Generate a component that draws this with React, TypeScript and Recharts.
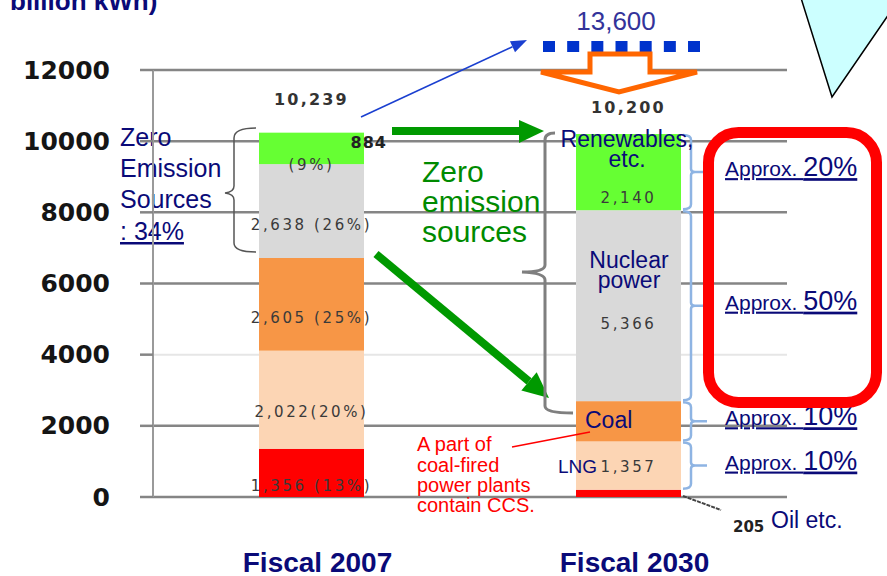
import React from 'react';
import { BarChart, Bar, XAxis, YAxis, CartesianGrid } from 'recharts';

// ---------- data ----------
const categories = ['Fiscal 2007', 'Fiscal 2030'];
const oil = [1356, 205];
const lng = [2756, 1357];
const coal = [2605, 1132];
const nuclear = [2638, 5366];
const renewables = [884, 2140];

const totalLabels = ['10,239', '10,200'];
const oilLabels = ['1,356 (13%)', ''];
const lngLabels = ['2,022(20%)', '1,357'];
const coalLabels = ['2,605 (25%)', ''];
const nuclearLabels = ['2,638 (26%)', '5,366'];
const renewLabels = ['(9%)', '2,140'];
const renewTopLabel = '884';
const approxRenew = '20%';
const approxNuclear = '50%';
const approxCoal = '10%';
const approxLng = '10%';
const yTicks = [0, 2000, 4000, 6000, 8000, 10000, 12000];
const lightTicks = [4000];
const Y_MAX = 12000;

const data = categories.map((c, i) => ({
  category: c,
  oil: oil[i],
  lng: lng[i],
  coal: coal[i],
  nuclear: nuclear[i],
  renewables: renewables[i],
}));

// ---------- styles ----------
const ARIAL = '"Liberation Sans", Arial, sans-serif';
const DEJA = '"DejaVu Sans", Verdana, sans-serif';
const NAVY = '#0a0a78';
const GRID = '#858585';
const C_OIL = '#ff0000';
const C_LNG = '#fcd5b4';
const C_COAL = '#f79646';
const C_NUC = '#d9d9d9';
const C_REN = '#66ff33';

const NUM_STYLE = {
  fontFamily: DEJA,
  fontSize: 15,
  letterSpacing: 2.6,
  fill: '#3a3a3a',
};

function arrowHead(x1: number, y1: number, x2: number, y2: number, len: number, half: number) {
  const dx = x2 - x1;
  const dy = y2 - y1;
  const L = Math.sqrt(dx * dx + dy * dy);
  const ux = dx / L;
  const uy = dy / L;
  const bxp = x2 - ux * len;
  const byp = y2 - uy * len;
  const px = -uy;
  const py = ux;
  return {
    base: [bxp, byp],
    pts: `${x2},${y2} ${bxp + px * half},${byp + py * half} ${bxp - px * half},${byp - py * half}`,
  };
}

const Annotations = () => {
  const blue = arrowHead(361, 117, 527, 40, 16, 6);
  const diag = arrowHead(376, 254, 549, 398, 26, 12);
  return (
    <g>
      {/* unit label */}
      <text x={10} y={10} fontFamily={ARIAL} fontWeight="bold" fontSize={26} fill={NAVY}>billion kWh)</text>

      {/* callout triangle */}
      <polygon points="801,-2 832,97 900,-2" fill="#ccffff" stroke="#000" strokeWidth={1.5} />

      {/* 13,600 */}
      <text x={616} y={30} textAnchor="middle" fontFamily={ARIAL} fontSize={26} fill="#33339a">13,600</text>
      <line x1={543} y1={46.5} x2={700} y2={46.5} stroke="#0033cc" strokeWidth={11} strokeDasharray="12 12.17" />

      {/* orange hollow arrow */}
      <path d="M590,54 L650,54 L650,72 L697,72 L619,92 L541,72 L590,72 Z" fill="#fff" stroke="#ff6600"
        strokeWidth={5} strokeLinejoin="miter" />

      {/* blue thin arrow */}
      <line x1={361} y1={117} x2={blue.base[0]} y2={blue.base[1]} stroke="#1a3fd0" strokeWidth={1.6} />
      <polygon points={blue.pts} fill="#1a3fd0" />

      {/* left brace */}
      <path d="M256,128 Q234,128 234,138 L234,186 Q234,192 225,193 Q234,194 234,200 L234,243 Q234,252 256,252"
        fill="none" stroke="#555" strokeWidth={1.5} />

      {/* left navy text */}
      <g fontFamily={ARIAL} fontSize={25} fill={NAVY}>
        <text x={120} y={146}>Zero</text>
        <text x={120} y={177}>Emission</text>
        <text x={120} y={208}>Sources</text>
        <text x={120} y={240} textDecoration="underline">: 34%</text>
      </g>

      {/* green arrows */}
      <rect x={392} y={127} width={128} height={8} fill="#009900" />
      <polygon points="519,120 544,131 519,143" fill="#009900" />
      <line x1={376} y1={254} x2={diag.base[0]} y2={diag.base[1]} stroke="#009900" strokeWidth={8} />
      <polygon points={diag.pts} fill="#009900" />

      {/* green text */}
      <g fontFamily={ARIAL} fontSize={30} fill="#008a00">
        <text x={422} y={182}>Zero</text>
        <text x={422} y={212}>emission</text>
        <text x={422} y={242}>sources</text>
      </g>

      {/* 2030 gray bracket */}
      <path d="M555,133 Q545,133 545,140 L545,265 Q545,272 522,272 Q545,273 545,280 L545,406 Q545,413 573,413"
        fill="none" stroke="#7f7f7f" strokeWidth={3} />

      {/* 2030 segment names */}
      <g fontFamily={ARIAL} fill={NAVY} textAnchor="middle">
        <text x={627} y={147} fontSize={23}>Renewables,</text>
        <text x={627} y={167} fontSize={23}>etc.</text>
        <text x={629} y={268} fontSize={23}>Nuclear</text>
        <text x={629} y={288} fontSize={23}>power</text>
      </g>
      <text x={585} y={428} fontFamily={ARIAL} fontSize={23} fill={NAVY}>Coal</text>
      <text x={558} y={473} fontFamily={ARIAL} fontSize={19} fill={NAVY}>LNG</text>

      {/* CCS note */}
      <line x1={512} y1={447} x2={590} y2={432} stroke="#ff0000" strokeWidth={1.6} />
      <g fontFamily={ARIAL} fontSize={20} fill="#ff0000">
        <text x={417} y={451}>A part of</text>
        <text x={417} y={472}>coal-fired</text>
        <text x={417} y={492}>power plants</text>
        <text x={417} y={512}>contain CCS.</text>
      </g>

      {/* oil */}
      <line x1={683} y1={496} x2={721} y2={510} stroke="#444" strokeWidth={2} strokeDasharray="4 1" />
      <text x={733} y={527} dominantBaseline="central" fontFamily={DEJA} fontWeight="bold" fontSize={15}
        fill="#222">{String(oil[1])}</text>
      <text x={771} y={528} fontFamily={ARIAL} fontSize={23} fill={NAVY}>Oil etc.</text>

      {/* red rounded box */}
      <rect x={708.5} y={132.5} width={168} height={270} rx={30} ry={30} fill="none" stroke="#ff0000" strokeWidth={11} />
    </g>
  );
};

function makeShape(fill: string, labels: string[], dys: number[], approx: string | null, isTop = false) {
  return (props: any) => {
    const { x, y, width, height, index } = props;
    if (height == null || width == null) return null;
    const cx = x + width / 2;
    const cy = y + height / 2;
    const label = labels[index];
    const bx = x + width + 10;
    return (
      <g>
        <rect x={x} y={y} width={width} height={height} fill={fill} />
        {label ? (
          <text x={cx} y={cy + dys[index]} textAnchor="middle" dominantBaseline="central" {...NUM_STYLE}>
            {label}
          </text>
        ) : null}
        {isTop && index === 0 ? (
          <text x={x + width + 23} y={y + 10} textAnchor="end" dominantBaseline="central"
            fontFamily={DEJA} fontWeight="bold" fontSize={16} fill="#222" letterSpacing={1}>
            {renewTopLabel}
          </text>
        ) : null}
        {isTop ? (
          <text x={cx} y={y - (index === 0 ? 33 : 27)} textAnchor="middle" dominantBaseline="central"
            fontFamily={DEJA} fontWeight="bold" fontSize={16} fill="#333" letterSpacing={2.2}>
            {totalLabels[index]}
          </text>
        ) : null}
        {index === 1 && approx ? (
          <g>
            <path
              d={`M${bx - 8},${y + 1} Q${bx},${y + 1} ${bx},${y + 6} L${bx},${cy - 3} Q${bx},${cy} ${bx + 4},${cy} L${bx + 16},${cy} M${bx + 4},${cy} Q${bx},${cy} ${bx},${cy + 3} L${bx},${y + height - 6} Q${bx},${y + height - 1} ${bx - 8},${y + height - 1}`}
              fill="none" stroke="#8eb4e3" strokeWidth={2.5} />
            <text x={x + width + 44} y={cy + 4} fill={NAVY} fontFamily={ARIAL} textDecoration="underline">
              <tspan fontSize={21}>Approx. </tspan>
              <tspan fontSize={27}>{approx}</tspan>
            </text>
          </g>
        ) : null}
        {isTop && index === 1 ? <Annotations /> : null}
      </g>
    );
  };
}

const oilShape = makeShape(C_OIL, oilLabels, [13, 0], null);
const lngShape = makeShape(C_LNG, lngLabels, [12, 1], approxLng);
const coalShape = makeShape(C_COAL, coalLabels, [14, 0], approxCoal);
const nucShape = makeShape(C_NUC, nuclearLabels, [14, 18], approxNuclear);
const renShape = makeShape(C_REN, renewLabels, [17, 26], approxRenew, true);

const YTick = (props: any) => {
  const { x, y, payload } = props;
  return (
    <text x={x} y={y} textAnchor="end" dominantBaseline="central" fontFamily={DEJA}
      fontWeight="bold" fontSize={25} fill="#151515">
      {payload.value}
    </text>
  );
};

const XTick = (props: any) => {
  const { x, payload } = props;
  return (
    <text x={x + 6} y={572} textAnchor="middle" fontFamily={ARIAL} fontWeight="bold" fontSize={28} fill={NAVY}>
      {payload.value}
    </text>
  );
};

export default function App() {
  const gridGen = (light: boolean) => (p: any) => {
    const off = p?.offset;
    const sel = yTicks.filter((t) => (lightTicks.includes(t) ? light : !light));
    if (!off) return [];
    return sel.map((t) => off.top + off.height * (1 - t / Y_MAX));
  };
  return (
    <div style={{ position: 'absolute', left: 0, top: 0, width: 887, height: 576, background: '#fff' }}>
      <BarChart width={887} height={576} data={data} margin={{ top: 70, right: 100, left: 93, bottom: 49 }}>
        <CartesianGrid vertical={false} stroke={GRID} strokeWidth={2.5}
          horizontalCoordinatesGenerator={gridGen(false)} />
        <CartesianGrid vertical={false} stroke="#e6e6e6" strokeWidth={2}
          horizontalCoordinatesGenerator={gridGen(true)} />
        <XAxis dataKey="category" axisLine={false} tickLine={false} tick={<XTick />} height={30} interval={0} />
        <YAxis domain={[0, Y_MAX]} ticks={yTicks} width={60} tickSize={13} tickMargin={30}
          axisLine={{ stroke: '#9a9a9a', strokeWidth: 2 }} tickLine={{ stroke: GRID, strokeWidth: 2.5 }}
          tick={<YTick />} />
        <Bar dataKey="oil" stackId="a" barSize={105} isAnimationActive={false} shape={oilShape} />
        <Bar dataKey="lng" stackId="a" barSize={105} isAnimationActive={false} shape={lngShape} />
        <Bar dataKey="coal" stackId="a" barSize={105} isAnimationActive={false} shape={coalShape} />
        <Bar dataKey="nuclear" stackId="a" barSize={105} isAnimationActive={false} shape={nucShape} />
        <Bar dataKey="renewables" stackId="a" barSize={105} isAnimationActive={false} shape={renShape} />
      </BarChart>
    </div>
  );
}
